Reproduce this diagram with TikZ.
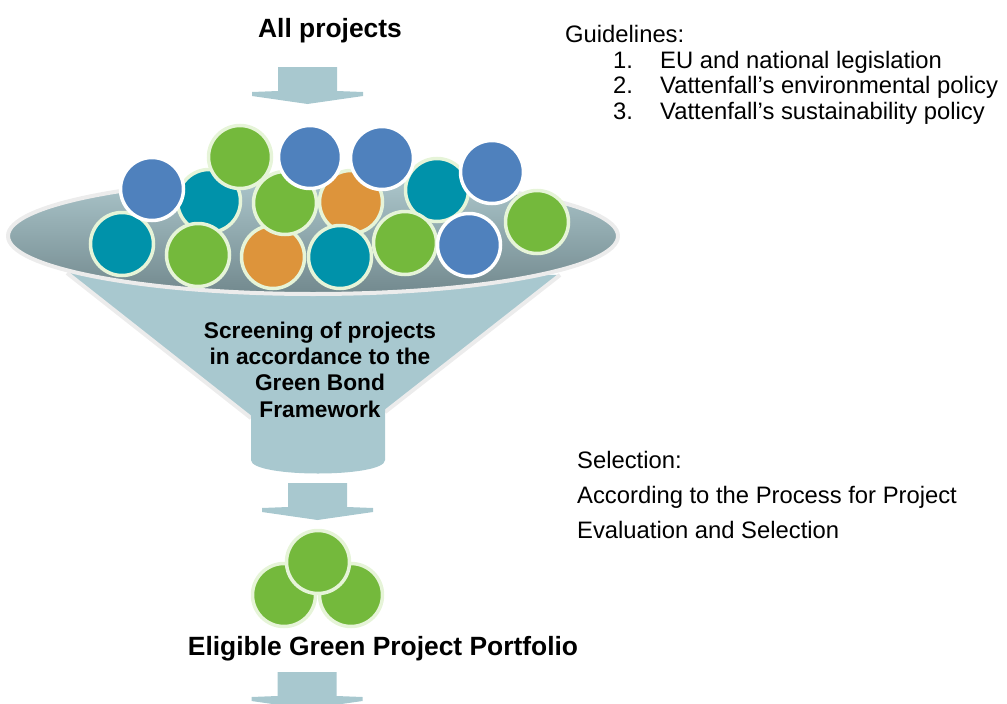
\documentclass[tikz,border=0pt]{standalone}
\usepackage{fontspec}
\setmainfont{Liberation Sans}

\definecolor{funnelblue}{RGB}{168,200,207}
\definecolor{dishtop}{RGB}{172,198,203}
\definecolor{dishbot}{RGB}{114,137,142}
\definecolor{rimgray}{RGB}{236,236,236}
\definecolor{ballblue}{RGB}{79,129,189}
\definecolor{ballteal}{RGB}{0,146,170}
\definecolor{ballgreen}{RGB}{116,185,60}
\definecolor{ballorange}{RGB}{221,148,59}
\definecolor{palegreen}{RGB}{230,244,216}

\tikzset{
    rim/.style={draw=rimgray, line width=4},
    ball/.style={line width=3.5},
    headline/.style={font=\bfseries\fontsize{26.4}{30}\selectfont, inner sep=0},
    screentext/.style={font=\bfseries\fontsize{22.7}{26.3}\selectfont, inner sep=0, align=center},
    bodytext/.style={font=\fontsize{23.8}{28}\selectfont, inner sep=0, anchor=base west}
}

% flat block arrow pointing down: #1 = centre x, #2 = top y
\newcommand{\flowarrow}[2]{%
    \fill[funnelblue, shift={(#1,#2)}]
        (-29.5,0) -- (29.5,0) -- (29.5,24) -- (55.5,25) -- (55.5,29)
        -- (0,37) -- (-55.5,29) -- (-55.5,25) -- (-29.5,24) -- cycle;
}

\begin{document}
\begin{tikzpicture}[x=1pt, y=-1pt]
    \pgfmathsetmacro{\rad}{31.5}
    \useasboundingbox (0,0) rectangle (1007,704);

    % funnel body
    \fill[funnelblue] (67,273) -- (251,418) -- (385,412) -- (560,275) -- cycle;
    \draw[rim] (67,273) -- (251,418);
    \draw[rim] (560,275) -- (385,412);
    \fill[funnelblue] (251,410) -- (251,460)
        .. controls (251,478) and (385,478) .. (385,460) -- (385,405) -- cycle;

    % dish
    \shade[top color=dishtop, bottom color=dishbot] (313,236)
        ellipse[x radius=305, y radius=58];
    \draw[rim] (313,236) ellipse[x radius=305, y radius=58];

    % projects, back to front
    \foreach \x/\y/\c/\b in {
        209/201/ballteal/palegreen, 437/190/ballteal/palegreen,
        273/257/ballorange/palegreen, 122/244/ballteal/palegreen,
        351/202/ballorange/palegreen, 340/257/ballteal/palegreen,
        285/203/ballgreen/palegreen, 198/255/ballgreen/palegreen,
        405/243/ballgreen/palegreen, 537/222/ballgreen/palegreen,
        152/189/ballblue/white, 240/157/ballgreen/palegreen,
        310/157/ballblue/white, 382/158/ballblue/white,
        469/245/ballblue/white, 492/172/ballblue/white}
        \filldraw[ball, fill=\c, draw=\b] (\x,\y) circle (\rad);

    \flowarrow{307.5}{67}
    \flowarrow{317.5}{483}
    \flowarrow{307}{672}

    % eligible portfolio
    \filldraw[ball, fill=ballgreen, draw=palegreen] (284,595) circle (\rad);
    \filldraw[ball, fill=ballgreen, draw=palegreen] (351,595) circle (\rad);
    \filldraw[ball, fill=ballgreen, draw=palegreen] (318,562) circle (\rad);

    \node[headline, anchor=base] (allproj) at (330,37) {All projects};
    \node[screentext, anchor=base] (screen) at (320,417)
        {Screening of projects\\ in accordance to the\\ Green Bond\\ Framework};
    \node[headline, anchor=base] (portfolio) at (383,655)
        {Eligible Green Project Portfolio};

    \node[bodytext] (guide) at (565,42) {Guidelines:};
    \foreach \t [count=\i] in {EU and national legislation,
        Vattenfall’s environmental policy, Vattenfall’s sustainability policy} {
        \node[bodytext] (num\i) at (613,{68+25.7*(\i-1)}) {\i.};
        \node[bodytext] (item\i) at (660,{68+25.7*(\i-1)}) {\t};
    }

    \node[bodytext] (select) at (577,468) {Selection:};
    \node[bodytext] (process) at (577,503) {According to the Process for Project};
    \node[bodytext] (evaluate) at (577,538) {Evaluation and Selection};
\end{tikzpicture}
\end{document}
